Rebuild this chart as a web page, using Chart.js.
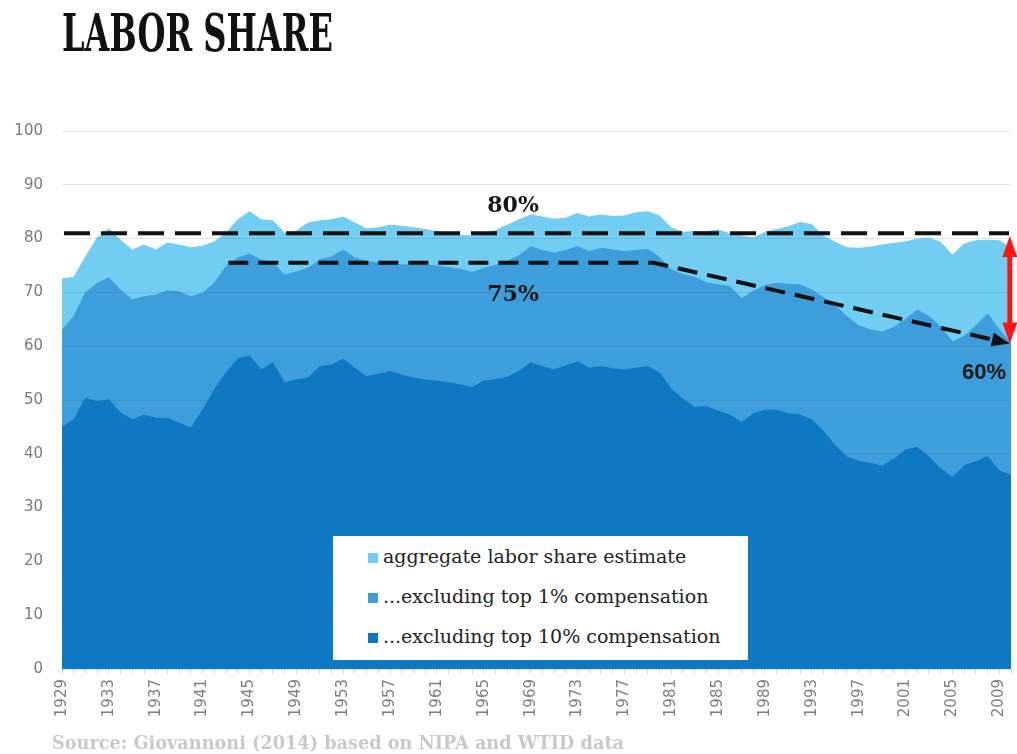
<!DOCTYPE html>
<html>
<head>
<meta charset="utf-8">
<script src="https://cdn.jsdelivr.net/npm/chart.js@4.4.0/dist/chart.umd.min.js"></script>
<style>
  body { margin: 0; background: #fff; }
  #wrap { position: relative; width: 1017px; height: 754px; overflow: hidden; }
  #grafico { position: absolute; left: 0; top: 0; }
  #titulo {
    position: absolute; left: 62px; top: 6px;
    font-family: "DejaVu Serif Condensed", "DejaVu Serif", serif;
    font-weight: bold; font-size: 53px; line-height: 1; color: #111;
    transform-origin: left top; white-space: nowrap;
  }
  #fonte {
    position: absolute; left: 52px; top: 732px;
    font-family: "DejaVu Serif", serif; font-weight: bold; font-size: 17.7px;
    color: #c9c9c9; white-space: nowrap;
  }
  #legenda {
    position: absolute; left: 333px; top: 536px; width: 415px; height: 124px;
    background: #fff; font-family: "DejaVu Serif", serif; font-size: 19px; color: #222;
  }
  #legenda .item { position: absolute; left: 35px; height: 22px; line-height: 22px; white-space: nowrap; }
  #legenda .quad { display: inline-block; width: 10px; height: 10px; margin-right: 5px; vertical-align: 0px; }
</style>
</head>
<body>
<div id="wrap">
  <canvas id="grafico" width="1017" height="754"></canvas>
  <div id="titulo">LABOR SHARE</div>
  <div id="legenda"></div>
  <div id="fonte">Source: Giovannoni (2014) based on NIPA and WTID data</div>
</div>
<script>
// anos do eixo x
const primeiroAno = 1929;
const ultimoAno = 2010;
const anos = [];
for (let a = primeiroAno; a <= ultimoAno; a++) anos.push(String(a));

// valores (% da renda)
const agregado = [
  72.5, 72.8, 76.6, 80.1, 81.8, 79.7, 77.9, 78.8, 77.9, 79.2,
  78.8, 78.3, 78.6, 79.4, 81.0, 83.5, 85.0, 83.5, 83.3, 81.0,
  81.4, 82.9, 83.3, 83.5, 84.0, 82.9, 81.8, 82.0, 82.5, 82.3,
  82.0, 81.7, 81.3, 81.0, 80.6, 80.5, 81.0, 81.5, 82.5, 83.5,
  84.4, 84.0, 83.6, 83.8, 84.7, 84.0, 84.4, 84.1, 84.2, 84.8,
  85.0, 84.2, 82.0, 81.2, 81.3, 81.3, 81.6, 80.9, 80.5, 80.1,
  81.2, 81.7, 82.2, 83.0, 82.6, 80.5, 79.3, 78.3, 78.2, 78.4,
  78.8, 79.1, 79.4, 79.9, 80.1, 79.3, 76.9, 79.0, 79.6, 79.7,
  79.6, 78.3
];
const semTop1 = [
  63.0, 65.5, 69.9, 71.7, 72.7, 70.4, 68.6, 69.2, 69.5, 70.3,
  70.1, 69.2, 69.9, 71.7, 74.8, 76.4, 77.1, 76.0, 75.5, 73.2,
  73.8, 74.5, 76.0, 76.6, 77.9, 76.4, 75.7, 75.5, 75.2, 75.1,
  75.1, 75.1, 74.9, 74.6, 74.3, 73.7, 74.5, 75.0, 75.8, 76.8,
  78.5, 77.8, 77.3, 77.8, 78.5, 77.6, 78.2, 77.9, 77.6, 77.8,
  78.0, 76.5, 74.2, 73.3, 72.8, 71.8, 71.4, 71.1, 68.8, 70.2,
  71.3, 71.7, 71.5, 71.4, 70.5, 69.0, 67.5, 65.5, 63.8, 63.0,
  62.6, 63.5, 65.0, 66.7, 65.5, 63.6, 60.8, 61.8, 63.8, 66.0,
  63.0, 60.6
];
const semTop10 = [
  45.0, 46.3, 50.3, 49.7, 50.0, 47.6, 46.3, 47.2, 46.6, 46.6,
  45.7, 44.8, 48.1, 51.9, 55.0, 57.6, 58.2, 55.6, 56.9, 53.2,
  53.7, 54.1, 56.2, 56.5, 57.6, 55.9, 54.3, 54.8, 55.3, 54.6,
  54.1, 53.7, 53.5, 53.2, 52.8, 52.3, 53.5, 53.8, 54.2, 55.3,
  56.9, 56.2, 55.6, 56.3, 57.1, 55.9, 56.2, 55.8, 55.6, 55.9,
  56.2, 55.0, 52.0, 50.2, 48.6, 48.8, 47.9, 47.2, 45.8, 47.4,
  48.1, 48.1, 47.4, 47.2, 46.3, 44.2, 41.5, 39.4, 38.6, 38.2,
  37.7, 39.0, 40.7, 41.2, 39.4, 37.2, 35.6, 37.8, 38.5, 39.5,
  36.8, 36.0
];

const nomesSeries = [
  "aggregate labor share estimate",
  "...excluding top 1% compensation",
  "...excluding top 10% compensation"
];
const coresSeries = ["#72cdf2", "#3e9edc", "#0e78c2"];

// anotações: nível de 80%, linha de 75% que cai até 60%
const nivelTopo = 81;
const tendencia = { inicio: 1943.2, dobra: 1979.5, fim: 2009.9, nivel: 75.5, nivelFim: 60.5 };
const rotulos = [
  { texto: "80%", ano: 1967.5, valor: 86.1, fonte: "bold 22px 'DejaVu Serif', serif" },
  { texto: "75%", ano: 1967.5, valor: 69.5, fonte: "bold 22px 'DejaVu Serif', serif" },
  { texto: "60%", ano: 2007.7, valor: 55.1, fonte: "bold 22px 'Liberation Sans', Arial, sans-serif" }
];

// legenda em html
const legenda = document.getElementById("legenda");
nomesSeries.forEach((nome, i) => {
  const div = document.createElement("div");
  div.className = "item";
  div.style.top = (9 + i * 40) + "px";
  div.innerHTML = `<span class="quad" style="background:${coresSeries[i]}"></span>${nome}`;
  legenda.appendChild(div);
});

// título comprimido na largura certa
const titulo = document.getElementById("titulo");
titulo.style.transform = `scaleX(${271 / titulo.offsetWidth})`;

function seta(ctx, x, y, ang, comp, larg) {
  ctx.save();
  ctx.translate(x, y);
  ctx.rotate(ang);
  ctx.beginPath();
  ctx.moveTo(0, 0);
  ctx.lineTo(-comp, -larg / 2);
  ctx.lineTo(-comp, larg / 2);
  ctx.closePath();
  ctx.fill();
  ctx.restore();
}

const anotacoes = {
  id: "anotacoes",
  afterDraw(chart) {
    const ctx = chart.ctx;
    const sx = chart.scales.x;
    const sy = chart.scales.y;
    const px = (ano) => sx.getPixelForValue(ano - primeiroAno);
    const py = (v) => sy.getPixelForValue(v);
    ctx.save();

    // linha tracejada de cima
    ctx.strokeStyle = "#111";
    ctx.lineWidth = 4;
    ctx.setLineDash([26, 11]);
    ctx.beginPath();
    ctx.moveTo(px(primeiroAno) + 2, py(nivelTopo));
    ctx.lineTo(px(ultimoAno) - 2, py(nivelTopo));
    ctx.stroke();

    // linha de 75% e queda
    const x2 = px(tendencia.fim), y2 = py(tendencia.nivelFim);
    const xb = px(tendencia.dobra), yb = py(tendencia.nivel);
    const ang = Math.atan2(y2 - yb, x2 - xb);
    ctx.setLineDash([20, 10]);
    ctx.beginPath();
    ctx.moveTo(px(tendencia.inicio), yb);
    ctx.lineTo(xb, yb);
    ctx.lineTo(x2 - Math.cos(ang) * 14, y2 - Math.sin(ang) * 14);
    ctx.stroke();
    ctx.setLineDash([]);
    ctx.fillStyle = "#111";
    seta(ctx, x2, y2, ang, 18, 14);

    // seta vermelha dupla
    const xr = px(tendencia.fim);
    const yt = py(nivelTopo - 0.5), yf = py(tendencia.nivelFim);
    ctx.strokeStyle = "#ff1414";
    ctx.fillStyle = "#ff1414";
    ctx.lineWidth = 5;
    ctx.beginPath();
    ctx.moveTo(xr, yt + 15);
    ctx.lineTo(xr, yf - 15);
    ctx.stroke();
    seta(ctx, xr, yt, -Math.PI / 2, 21, 15);
    seta(ctx, xr, yf, Math.PI / 2, 21, 15);

    // rótulos de porcentagem
    ctx.fillStyle = "#161616";
    ctx.textAlign = "center";
    ctx.textBaseline = "middle";
    rotulos.forEach((r) => {
      ctx.font = r.fonte;
      ctx.fillText(r.texto, px(r.ano), py(r.valor));
    });
    ctx.restore();
  }
};

const dados = [agregado, semTop1, semTop10];

new Chart(document.getElementById("grafico"), {
  type: "line",
  data: {
    labels: anos,
    datasets: dados.map((serie, i) => ({
      label: nomesSeries[i],
      data: serie,
      backgroundColor: coresSeries[i],
      borderColor: coresSeries[i],
      borderWidth: 1,
      pointRadius: 0,
      tension: 0,
      fill: "origin",
      order: 3 - i
    }))
  },
  options: {
    responsive: false,
    animation: false,
    events: [],
    layout: { padding: { top: 131, right: 6, left: 0, bottom: 0 } },
    plugins: { legend: { display: false }, tooltip: { enabled: false } },
    scales: {
      x: {
        afterFit: (s) => { s.height = 85; s.paddingLeft = 0; s.paddingRight = 0; },
        border: { display: false },
        grid: { drawOnChartArea: false, drawTicks: true, tickLength: 5, color: "#d6d6d6" },
        ticks: {
          autoSkip: false,
          maxRotation: 90,
          minRotation: 90,
          padding: 5,
          color: "#808080",
          font: { family: "'DejaVu Sans', sans-serif", size: 15 },
          callback: function (v, i) {
            return (i % 4 === 0) ? anos[i] : "";
          }
        }
      },
      y: {
        min: 0,
        max: 100,
        afterFit: (s) => { s.width = 62; },
        border: { display: false },
        grid: { color: "rgba(90,90,90,0.16)", drawTicks: false, z: 1 },
        ticks: {
          stepSize: 10,
          padding: 19,
          color: "#7a7a7a",
          font: { family: "'DejaVu Sans', sans-serif", size: 15 }
        }
      }
    }
  },
  plugins: [anotacoes]
});
</script>
</body>
</html>
